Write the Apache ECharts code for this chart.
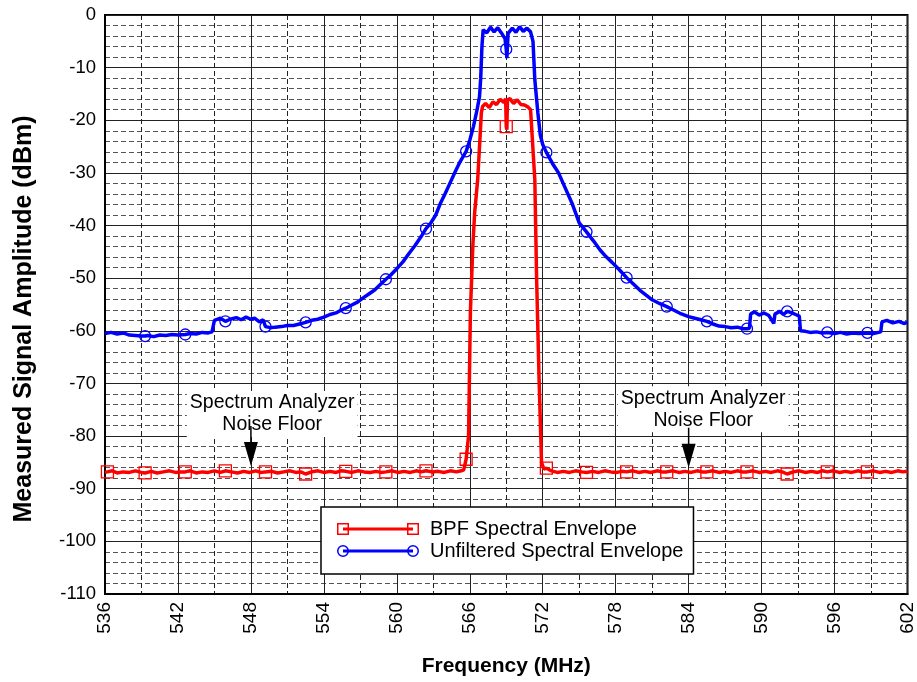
<!DOCTYPE html>
<html>
<head>
<meta charset="utf-8">
<script src="https://cdn.jsdelivr.net/npm/echarts@6/dist/echarts.min.js"></script>
<style>
  html, body { margin: 0; padding: 0; background: #fff; }
  #chart { width: 917px; height: 682px; }
</style>
</head>
<body>
<div id="chart"></div>
<script>
// frequency ticks (MHz)
const freqTicks = [536, 542, 548, 554, 560, 566, 572, 578, 584, 590, 596, 602];
const levelTicks = [0, -10, -20, -30, -40, -50, -60, -70, -80, -90, -100, -110];

// where the trace markers sit (MHz)
const markFreqs = [536.2, 539.3, 542.6, 545.9, 549.2, 552.5, 555.8, 559.1, 562.4, 565.7,
  569.0, 572.3, 575.6, 578.9, 582.2, 585.5, 588.8, 592.1, 595.4, 598.7];

// Unfiltered spectral envelope
const rawFreq = [536.0, 536.5, 537.0, 537.5, 538.0, 538.5, 539.0, 539.3, 539.5, 540.0,
  540.5, 541.0, 541.5, 542.0, 542.6, 543.0, 543.5, 544.0, 544.5, 544.8,
  545.0, 545.5, 545.9, 546.3, 546.8, 547.2, 547.6, 548.0, 548.3, 548.7,
  549.0, 549.2, 549.6, 550.0, 550.5, 551.0, 551.5, 552.0, 552.5, 553.0,
  553.5, 554.0, 554.5, 555.0, 555.4, 555.8, 556.3, 556.8, 557.2, 557.7,
  558.2, 558.6, 559.1, 559.5, 560.0, 560.5, 561.0, 561.5, 562.0, 562.4,
  562.8, 563.2, 563.6, 564.0, 564.4, 564.8, 565.2, 565.7, 566.0, 566.3,
  566.6, 566.8, 566.9, 567.0, 567.1, 567.4, 567.7, 568.0, 568.3, 568.6,
  568.9, 569.0, 569.05, 569.15, 569.5, 569.8, 570.1, 570.4, 570.7, 571.0,
  571.2, 571.35, 571.6, 571.8, 572.0, 572.3, 572.8, 573.3, 573.8, 574.4,
  575.0, 575.6, 576.2, 576.7, 577.2, 577.7, 578.3, 578.9, 579.5, 580.0,
  580.5, 581.0, 581.6, 582.2, 582.8, 583.4, 584.0, 584.5, 585.0, 585.5,
  586.0, 586.5, 587.0, 587.5, 588.0, 588.5, 588.8, 589.0, 589.1, 589.4,
  589.8, 590.2, 590.6, 591.0, 591.1, 591.5, 591.8, 592.1, 592.5, 592.8,
  593.1, 593.2, 593.6, 594.0, 594.5, 595.0, 595.4, 596.0, 596.5, 597.0,
  597.5, 598.0, 598.7, 599.2, 599.8, 599.9, 600.3, 600.8, 601.3, 601.7, 602.0];
const rawLevel = [-60.5, -60.3, -60.6, -60.4, -60.8, -60.9, -61.0, -61.0, -60.9, -61.1,
  -60.8, -60.9, -60.7, -60.8, -60.7, -60.5, -60.6, -60.3, -60.4, -60.2,
  -58.0, -57.6, -58.2, -57.8, -57.5, -57.9, -57.4, -57.8, -57.6, -58.3,
  -57.9, -59.2, -59.4, -59.3, -59.2, -59.0, -59.0, -58.7, -58.4, -58.0,
  -57.8, -57.4, -56.9, -56.6, -56.1, -55.7, -55.1, -54.5, -53.8, -53.0,
  -52.2, -51.3, -50.2, -49.4, -48.2, -46.9, -45.3, -43.8, -42.1, -40.6,
  -39.5, -38.0, -35.7, -33.8, -31.8, -29.8, -27.9, -25.9, -23.8, -21.2,
  -18.0, -15.5, -12.0, -6.0, -2.8, -3.4, -2.3, -3.2, -2.4, -3.4,
  -4.5, -6.5, -8.2, -3.5, -2.5, -3.3, -2.2, -3.1, -2.5, -3.2,
  -5.0, -12.3, -18.6, -22.8, -24.6, -26.1, -28.2, -30.0, -32.6, -35.7,
  -39.5, -41.2, -43.0, -44.6, -45.9, -47.0, -48.4, -49.9, -51.2, -52.3,
  -53.2, -54.1, -54.8, -55.4, -56.1, -56.8, -57.3, -57.6, -57.9, -58.2,
  -58.7, -59.1, -59.2, -59.4, -59.3, -59.6, -59.6, -59.5, -56.8, -56.4,
  -57.0, -56.6, -57.1, -58.6, -56.8, -56.3, -56.9, -56.3, -56.6, -56.9,
  -57.2, -60.0, -60.1, -60.3, -60.2, -60.4, -60.3, -60.5, -60.3, -60.6,
  -60.4, -60.5, -60.4, -60.5, -60.2, -58.3, -58.0, -58.5, -58.2, -58.6, -58.4];

// BPF spectral envelope
const bpfFreq = [536.0, 536.2, 536.6, 537.0, 537.5, 538.0, 538.5, 539.0, 539.3, 539.8,
  540.3, 540.8, 541.3, 541.8, 542.2, 542.6, 543.0, 543.5, 544.0, 544.5,
  545.0, 545.5, 545.9, 546.4, 546.9, 547.4, 547.9, 548.4, 548.8, 549.2,
  549.7, 550.2, 550.7, 551.2, 551.7, 552.1, 552.5, 553.0, 553.5, 554.0,
  554.5, 555.0, 555.4, 555.8, 556.3, 556.8, 557.3, 557.8, 558.3, 558.7,
  559.1, 559.6, 560.1, 560.6, 561.1, 561.6, 562.0, 562.4, 562.9, 563.4,
  563.9, 564.4, 564.9, 565.3, 565.5, 565.7, 565.9, 566.05, 566.25, 566.4,
  566.65, 566.85, 566.95, 567.05, 567.3, 567.6, 567.9, 568.2, 568.5, 568.8,
  568.95, 569.0, 569.05, 569.1, 569.3, 569.6, 569.9, 570.2, 570.5, 570.8,
  571.0, 571.35, 571.5, 571.7, 571.9, 572.1, 572.3, 572.7, 573.2, 573.7,
  574.2, 574.7, 575.2, 575.6, 576.1, 576.6, 577.1, 577.6, 578.1, 578.5,
  578.9, 579.4, 579.9, 580.4, 580.9, 581.4, 581.8, 582.2, 582.7, 583.2,
  583.7, 584.2, 584.7, 585.1, 585.5, 586.0, 586.5, 587.0, 587.5, 588.0,
  588.4, 588.8, 589.3, 589.8, 590.3, 590.8, 591.3, 591.7, 592.1, 592.6,
  593.1, 593.6, 594.1, 594.6, 595.0, 595.4, 595.9, 596.4, 596.9, 597.4,
  597.9, 598.3, 598.7, 599.2, 599.7, 600.2, 600.7, 601.2, 601.6, 602.0];
const bpfLevel = [-86.9, -86.8, -86.6, -87.0, -86.8, -86.9, -86.6, -86.9, -87.0, -86.7,
  -87.0, -86.8, -86.6, -86.9, -86.8, -86.8, -86.6, -87.0, -86.8, -86.9,
  -86.6, -86.9, -86.6, -86.8, -87.0, -86.7, -86.9, -86.6, -86.9, -86.8,
  -86.7, -87.0, -86.8, -86.6, -86.9, -86.8, -87.2, -86.8, -86.6, -86.9,
  -86.7, -86.9, -86.6, -86.7, -86.9, -86.6, -86.8, -86.9, -86.7, -86.9,
  -86.8, -86.6, -86.9, -86.7, -86.9, -86.6, -86.8, -86.6, -86.8, -86.7,
  -86.9, -86.6, -86.8, -86.6, -86.4, -84.4, -80.0, -56.5, -44.0, -37.6,
  -31.3, -23.0, -18.6, -17.4, -16.8, -17.6, -16.5, -17.0, -16.0, -16.6,
  -15.9, -21.2, -21.8, -16.1, -15.9, -16.8, -16.1, -17.0, -17.1, -17.5,
  -18.0, -31.3, -50.3, -69.2, -85.0, -86.3, -86.1, -86.6, -86.9, -86.7,
  -86.9, -86.6, -86.8, -86.9, -86.7, -86.9, -86.6, -86.8, -86.9, -86.7,
  -86.8, -86.6, -86.9, -86.7, -86.9, -86.6, -86.8, -86.8, -86.6, -86.9,
  -86.7, -86.9, -86.6, -86.8, -86.8, -86.6, -86.9, -86.7, -86.9, -86.6,
  -86.8, -86.8, -86.6, -86.9, -86.7, -86.9, -86.6, -86.8, -87.2, -86.8,
  -86.6, -86.9, -86.7, -86.9, -86.6, -86.8, -86.6, -86.9, -86.7, -86.9,
  -86.6, -86.8, -86.8, -86.6, -86.9, -86.7, -86.9, -86.6, -86.8, -86.7];

// annotation anchors, in data units [MHz, dBm]
const noteText = 'Spectrum Analyzer\nNoise Floor';
const notes = [
  { text: [549.75, -75.8], tip: [548.0, -85.7] },
  { text: [585.2, -74.9], tip: [584.0, -86.0] },
];

const FONT = "'Liberation Sans', Arial, sans-serif";
const RED = '#ff0000';
const BLUE = '#0000ff';

const zip = (xs, ys) => xs.map((x, i) => [x, ys[i]]);
const isMark = (f) => markFreqs.some((m) => Math.abs(m - f) < 1e-6);

// legend icons: line with a hollow marker at each end
const squareIcon = 'path://M0,0H12V12H0Z M1.5,1.5V10.5H10.5V1.5Z ' +
  'M70,0H82V12H70Z M71.5,1.5V10.5H80.5V1.5Z M6,4.5H76V7.5H6Z';
const circleIcon = 'path://M0,6A6,6 0 1 1 12,6A6,6 0 1 1 0,6Z M1.5,6A4.5,4.5 0 1 0 10.5,6A4.5,4.5 0 1 0 1.5,6Z ' +
  'M70,6A6,6 0 1 1 82,6A6,6 0 1 1 70,6Z M71.5,6A4.5,4.5 0 1 0 80.5,6A4.5,4.5 0 1 0 71.5,6Z M6,4.5H76V7.5H6Z';

const chart = echarts.init(document.getElementById('chart'));

const option = {
  animation: false,
  backgroundColor: '#fff',
  grid: {
    left: 105, right: 8, top: 15, bottom: 87,
    show: true, borderColor: '#000', borderWidth: 2,
  },
  legend: {
    orient: 'vertical',
    left: 321, top: 507,
    padding: [11, 10, 12, 16],
    itemGap: 0,
    itemWidth: 82, itemHeight: 12,
    backgroundColor: '#fff',
    borderColor: '#000', borderWidth: 1.5,
    textStyle: { fontFamily: FONT, fontSize: 20, color: '#000', lineHeight: 22, padding: [0, 0, 0, 6] },
    data: [
      { name: 'BPF Spectral Envelope', icon: squareIcon, itemStyle: { color: RED, borderWidth: 0 } },
      { name: 'Unfiltered Spectral Envelope', icon: circleIcon, itemStyle: { color: BLUE, borderWidth: 0 } },
    ],
  },
  xAxis: {
    type: 'value',
    min: freqTicks[0], max: freqTicks[freqTicks.length - 1], interval: 6,
    axisLine: { show: true, onZero: false, lineStyle: { color: '#000', width: 2 } },
    axisTick: { show: false },
    axisLabel: { rotate: 90, margin: 8, fontFamily: FONT, fontSize: 19, color: '#000' },
    splitLine: { show: true, lineStyle: { color: '#222', width: 1 } },
    minorTick: { show: false, splitNumber: 2 },
    minorSplitLine: { show: true, lineStyle: { color: '#222', width: 1, type: [5, 3] } },
    name: 'Frequency (MHz)',
    nameLocation: 'middle',
    nameGap: 62,
    nameTextStyle: { fontFamily: FONT, fontSize: 21, fontWeight: 'bold', color: '#000' },
  },
  yAxis: {
    type: 'value',
    min: levelTicks[levelTicks.length - 1], max: levelTicks[0], interval: 10,
    axisLine: { show: true, onZero: false, lineStyle: { color: '#000', width: 2 } },
    axisTick: { show: false },
    axisLabel: { margin: 9, fontFamily: FONT, fontSize: 18.5, color: '#000' },
    splitLine: { show: true, lineStyle: { color: '#222', width: 1 } },
    minorTick: { show: false, splitNumber: 5 },
    minorSplitLine: { show: true, lineStyle: { color: '#555', width: 1, type: [5, 3] } },
  },
  series: [
    {
      name: 'BPF Spectral Envelope',
      type: 'line',
      data: zip(bpfFreq, bpfLevel),
      showSymbol: true,
      showAllSymbol: true,
      symbol: 'rect',
      symbolSize: (v) => (isMark(v[0]) ? 12 : 0),
      itemStyle: { color: 'transparent', borderColor: RED, borderWidth: 1.3 },
      lineStyle: { color: RED, width: 3.5 },
      z: 3,
    },
    {
      name: 'Unfiltered Spectral Envelope',
      type: 'line',
      data: zip(rawFreq, rawLevel),
      showSymbol: true,
      showAllSymbol: true,
      symbol: 'circle',
      symbolSize: (v) => (isMark(v[0]) && v[0] > 537 ? 11 : 0),
      itemStyle: { color: 'transparent', borderColor: BLUE, borderWidth: 1.3 },
      lineStyle: { color: BLUE, width: 3.5 },
      z: 4,
    },
  ],
};

chart.setOption(option);

// y axis title and noise-floor notes, placed from data coordinates
const toPx = (p) => chart.convertToPixel({ xAxisIndex: 0, yAxisIndex: 0 }, p);
const graphics = [
  {
    type: 'text', x: 24, y: 319, rotation: Math.PI / 2, z: 100,
    style: {
      text: 'Measured Signal Amplitude (dBm)',
      font: 'bold 25px ' + FONT, fill: '#000',
      align: 'center', verticalAlign: 'middle',
    },
  },
];
notes.forEach((n) => {
  const c = toPx(n.text);
  const t = toPx(n.tip);
  graphics.push({
    type: 'text', x: c[0], y: c[1], z: 100,
    style: {
      text: noteText, font: '19.5px ' + FONT, fill: '#000',
      align: 'center', verticalAlign: 'middle', lineHeight: 22,
      backgroundColor: '#fff', padding: [1, 3],
    },
  });
  graphics.push({
    type: 'line', z: 101,
    shape: { x1: t[0], y1: t[1] - 40, x2: t[0], y2: t[1] - 20 },
    style: { stroke: '#000', lineWidth: 1.5 },
  });
  graphics.push({
    type: 'polygon', z: 101,
    shape: { points: [[t[0] - 7, t[1] - 24], [t[0] + 7, t[1] - 24], [t[0], t[1]]] },
    style: { fill: '#000' },
  });
});
chart.setOption({ graphic: graphics });
</script>
</body>
</html>
